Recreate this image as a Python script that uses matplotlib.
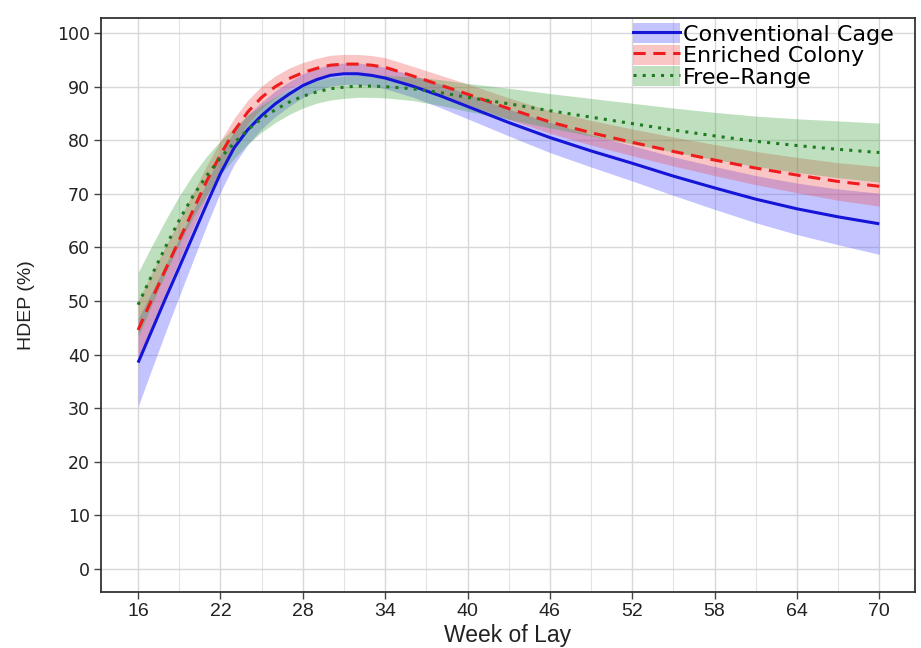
import matplotlib
matplotlib.use('Agg')
import matplotlib.pyplot as plt
from matplotlib.patches import Patch
from matplotlib.lines import Line2D
import numpy as np

WEEKS = [16, 17, 18, 19, 20, 21, 22, 23, 24, 25, 26, 27, 28, 29, 30, 31, 32, 33, 34,
         36, 38, 40, 43, 46, 49, 52, 55, 58, 61, 64, 67, 70]

CAGE = [38.5, 44.5, 50.5, 56.3, 62.2, 68.1, 73.8, 78.6, 82.0, 84.6, 86.8, 88.6,
        90.2, 91.3, 92.1, 92.4, 92.4, 92.1, 91.6,
        90.1, 88.3, 86.3, 83.3, 80.5, 78.0, 75.7, 73.3, 71.1, 69.0, 67.2, 65.7, 64.4]
CAGE_HW = [8.2, 7.2, 6.3, 5.4, 4.7, 4.0, 3.5, 3.1, 2.8, 2.5, 2.4, 2.3,
           2.2, 2.1, 2.0, 2.0, 2.0, 2.0, 2.0,
           2.05, 2.2, 2.3, 2.5, 2.8, 3.0, 3.3, 3.6, 4.0, 4.4, 4.8, 5.2, 5.7]

COLONY = [44.6, 50.3, 55.9, 61.4, 66.9, 72.4, 77.3, 81.7, 85.3, 88.0, 90.0, 91.5,
          92.6, 93.4, 94.0, 94.2, 94.2, 94.0, 93.6,
          92.0, 90.3, 88.6, 85.9, 83.4, 81.4, 79.6, 77.9, 76.3, 74.8, 73.5, 72.3, 71.4]
COLONY_HW = [5.5, 4.9, 4.3, 3.8, 3.3, 2.9, 2.6, 2.4, 2.2, 2.1, 2.0, 1.95,
             1.9, 1.85, 1.85, 1.8, 1.8, 1.8, 1.8,
             1.8, 1.85, 1.9, 2.0, 2.1, 2.3, 2.5, 2.7, 2.9, 3.1, 3.3, 3.5, 3.7]

FREE = [49.3, 54.8, 60.1, 65.1, 69.6, 73.4, 76.7, 79.5, 82.0, 84.0, 85.7, 87.1,
        88.2, 89.0, 89.6, 89.9, 90.1, 90.1, 90.0,
        89.6, 88.9, 88.0, 86.8, 85.5, 84.3, 83.1, 81.9, 80.8, 79.8, 79.0, 78.3, 77.7]
FREE_HW = [6.0, 5.5, 5.0, 4.5, 4.0, 3.6, 3.2, 2.9, 2.7, 2.5, 2.4, 2.3,
           2.2, 2.1, 2.1, 2.1, 2.1, 2.1, 2.1,
           2.2, 2.4, 2.6, 2.9, 3.2, 3.5, 3.8, 4.1, 4.4, 4.7, 5.0, 5.3, 5.5]

LABELS = ['Conventional Cage', 'Enriched Colony', 'Free\u2013Range']
XTICKS = [16, 22, 28, 34, 40, 46, 52, 58, 64, 70]
YTICKS = list(range(0, 101, 10))

plt.rcParams['font.family'] = ['Liberation Sans', 'DejaVu Sans']

fig = plt.figure(figsize=(9.21, 6.48), dpi=100)
ax = fig.add_axes([0.1097, 0.0864, 0.8838, 0.8858])

x = np.array(WEEKS)
series = [
    (CAGE, CAGE_HW, '#1515d8', '#5555ff', 0.35, '-'),
    (COLONY, COLONY_HW, '#ee1c1c', '#f04040', 0.30, (0, (4, 2.5))),
    (FREE, FREE_HW, '#1e7a1e', '#3aa03a', 0.32, (0, (1, 2))),
]
handles = []
for (y, hw, lc, fc, a, ls), lab in zip(series, LABELS):
    y = np.array(y)
    hw = np.array(hw)
    ax.fill_between(x, y - hw, y + hw, color=fc, alpha=a, lw=0, zorder=2)
    ax.plot(x, y, color=lc, lw=2.2, ls=ls, zorder=3,
            dash_capstyle='butt', solid_capstyle='butt')
    handles.append((Patch(facecolor=fc, alpha=a, edgecolor='none'),
                    Line2D([], [], color=lc, lw=2.2, ls=ls)))

ax.set_xlim(13.3, 72.6)
ax.set_ylim(-4.3, 102.8)
ax.set_xticks(XTICKS)
ax.set_yticks(YTICKS)
ax.set_xticks([19, 25, 31, 37, 43, 49, 55, 61, 67], minor=True)
ax.grid(True, which='major', color='#d8d8d8', lw=1.0, zorder=0)
ax.grid(True, which='minor', axis='x', color='#e3e3e3', lw=0.8, zorder=0)
ax.set_axisbelow(True)

for s in ax.spines.values():
    s.set_color('#333333')
    s.set_linewidth(1.3)
ax.tick_params(axis='both', which='major', length=5, width=1, color='#444444',
               labelcolor='#222222', pad=3)
ax.tick_params(axis='x', which='major', labelsize=14)
ax.tick_params(axis='y', which='major', labelsize=12.5)
for t in ax.get_yticklabels():
    t.set_family('DejaVu Sans')
ax.tick_params(axis='x', which='minor', length=0)

ax.set_xlabel('Week of Lay', fontsize=16.5, color='#222222', labelpad=3)
ax.set_ylabel('HDEP (%)', fontsize=14, color='#222222', labelpad=16)

leg = ax.legend(handles, LABELS, loc='upper right', bbox_to_anchor=(0.977, 0.995),
                frameon=False, prop={'family': 'DejaVu Sans', 'size': 16},
                handlelength=2.1, handleheight=1.0, borderaxespad=0.0,
                borderpad=0.1, labelspacing=0.0, handletextpad=0.15)

fig.savefig('out.png', dpi=100)
